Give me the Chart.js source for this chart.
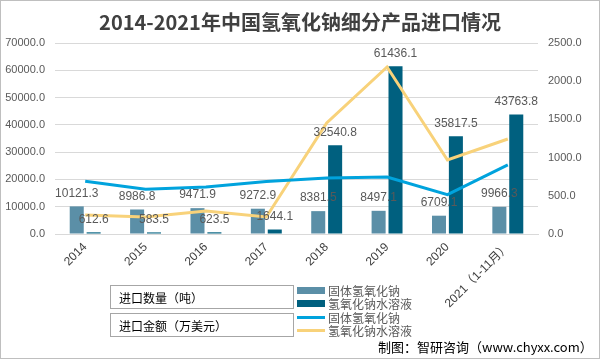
<!DOCTYPE html>
<html>
<head>
<meta charset="utf-8">
<script src="https://cdn.jsdelivr.net/npm/chart.js@4.4.1/dist/chart.umd.min.js"></script>
<style>
  html, body { margin: 0; padding: 0; background: #fff; }
  #wrap { position: relative; width: 600px; height: 359px; overflow: hidden; font-family: "Noto Sans CJK SC", "Liberation Sans", sans-serif; }
  #c { position: absolute; left: 0; top: 0; }
  #frame { position: absolute; left: 0; top: 0; width: 598px; height: 357px; border: 1px solid #bfbfbf; pointer-events: none; }
  #title { position: absolute; left: 0; width: 600px; top: 8px; text-align: center; font-size: 20px; font-weight: bold; color: #404040; line-height: 28px; }
  .cell { position: absolute; left: 110px; width: 184px; height: 24px; border: 1px solid #a6a6a6; font-size: 12px; color: #000; line-height: 24px; padding-left: 8px; box-sizing: border-box; }
  .leg { position: absolute; left: 297px; font-size: 12px; color: #595959; line-height: 13px; height: 13px; white-space: nowrap; }
  .sw { position: absolute; left: 0; width: 28px; }
  .lt { position: absolute; left: 31px; top: 0; }
  #foot { position: absolute; left: 378px; top: 338px; font-size: 13px; color: #000; line-height: 18px; white-space: nowrap; }
</style>
</head>
<body>
<div id="wrap">
  <canvas id="c" width="600" height="359"></canvas>
  <div id="title">2014-2021年中国氢氧化钠细分产品进口情况</div>
  <div class="cell" style="top:285px;">进口数量（吨）</div>
  <div class="cell" style="top:313px;">进口金额（万美元）</div>
  <div id="legend"></div>
  <div id="foot">制图：智研咨询（www.chyxx.com）</div>
  <div id="frame"></div>
</div>
<script>
const categories = ['2014', '2015', '2016', '2017', '2018', '2019', '2020', '2021（1-11月）'];
const seriesNames = ['固体氢氧化钠', '氢氧化钠水溶液', '固体氢氧化钠', '氢氧化钠水溶液'];
// import quantity (tonnes) - left axis
const solidQty = [10121.3, 8986.8, 9471.9, 9272.9, 8381.5, 8497.1, 6709.1, 9966.3];
const aqueousQty = [612.6, 583.5, 623.5, 1644.1, 32540.8, 61436.1, 35817.5, 43763.8];
// import value (10k USD) - right axis
const solidValue = [690, 585, 615, 688, 733, 746, 515, 905];
const aqueousValue = [249, 222, 301, 222, 1453, 2186, 969, 1243];
const leftTicks = [0, 10000, 20000, 30000, 40000, 50000, 60000, 70000];
const rightTicks = [0, 500, 1000, 1500, 2000, 2500];

const colors = ['#5b8fa7', '#00607f', '#00a3dd', '#f8d27a'];

// HTML legend
const legEl = document.getElementById('legend');
const legTops = [284, 297, 311, 324];
seriesNames.forEach((n, i) => {
  const d = document.createElement('div');
  d.className = 'leg';
  d.style.top = legTops[i] + 'px';
  const isBar = i < 2;
  const h = isBar ? 7 : 3;
  d.innerHTML = '<div class="sw" style="top:' + (isBar ? 3 : 5) + 'px;height:' + h + 'px;background:' + colors[i] + '"></div><div class="lt">' + n + '</div>';
  legEl.appendChild(d);
});

const barLabels = {
  id: 'barLabels',
  afterDatasetsDraw(chart) {
    const ctx = chart.ctx;
    ctx.save();
    ctx.font = '12px "Liberation Sans", Arial, sans-serif';
    ctx.fillStyle = '#595959';
    ctx.textAlign = 'center';
    ctx.textBaseline = 'middle';
    chart.data.datasets.forEach((ds, di) => {
      if (ds.type !== 'bar') return;
      const meta = chart.getDatasetMeta(di);
      meta.data.forEach((el, i) => {
        ctx.fillText(ds.data[i].toFixed(1), el.x, el.y - 13);
      });
    });
    ctx.restore();
  }
};

new Chart(document.getElementById('c'), {
  data: {
    labels: categories,
    datasets: [
      { type: 'line', label: seriesNames[2], data: solidValue, yAxisID: 'y1', borderColor: colors[2], backgroundColor: colors[2], borderWidth: 3, pointRadius: 0, tension: 0, order: 0 },
      { type: 'line', label: seriesNames[3], data: aqueousValue, yAxisID: 'y1', borderColor: colors[3], backgroundColor: colors[3], borderWidth: 3, pointRadius: 0, tension: 0, order: 0 },
      { type: 'bar', label: seriesNames[0], data: solidQty, yAxisID: 'y', backgroundColor: colors[0], categoryPercentage: 0.56, barPercentage: 0.83, order: 1 },
      { type: 'bar', label: seriesNames[1], data: aqueousQty, yAxisID: 'y', backgroundColor: colors[1], categoryPercentage: 0.56, barPercentage: 0.83, order: 1 }
    ]
  },
  options: {
    responsive: false,
    animation: false,
    devicePixelRatio: 1,
    layout: { padding: { top: 43, left: 0, right: 0, bottom: 0 } },
    plugins: { legend: { display: false }, tooltip: { enabled: false }, title: { display: false } },
    scales: {
      x: {
        grid: { display: false, drawTicks: false },
        border: { display: true, color: '#d9d9d9' },
        ticks: { color: '#404040', font: { size: 12, family: '"Liberation Sans", "Noto Sans CJK SC", sans-serif' }, minRotation: 45, maxRotation: 45, padding: 6, autoSkip: false },
        afterFit(s) { s.height = 125; }
      },
      y: {
        position: 'left', min: 0, max: 70000,
        afterBuildTicks(s) { s.ticks = leftTicks.map(v => ({ value: v })); },
        grid: { color: '#d9d9d9', drawTicks: false },
        border: { display: false },
        ticks: { color: '#595959', font: { size: 11, family: '"Liberation Sans", Arial, sans-serif' }, padding: 10, callback: v => Number(v).toFixed(1) },
        afterFit(s) { s.width = 55; }
      },
      y1: {
        position: 'right', min: 0, max: 2500,
        afterBuildTicks(s) { s.ticks = rightTicks.map(v => ({ value: v })); },
        grid: { display: false, drawTicks: false },
        border: { display: false },
        ticks: { color: '#595959', font: { size: 11, family: '"Liberation Sans", Arial, sans-serif' }, padding: 10, callback: v => Number(v).toFixed(1) },
        afterFit(s) { s.width = 62; }
      }
    }
  },
  plugins: [barLabels]
});
</script>
</body>
</html>
